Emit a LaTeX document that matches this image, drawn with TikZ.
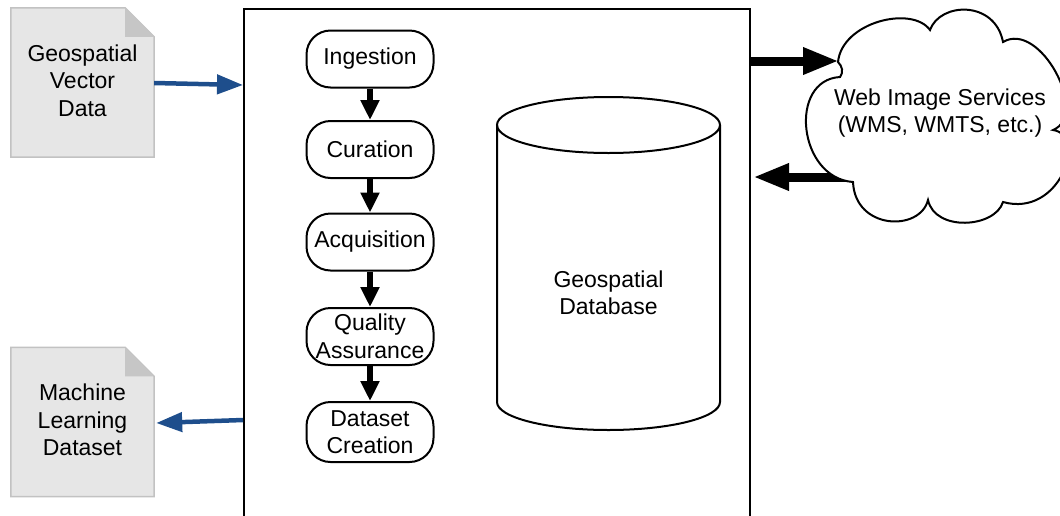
\documentclass[tikz,border=0pt]{standalone}
\usepackage{fontspec}
\setmainfont{Liberation Sans}
\usetikzlibrary{arrows.meta}
\definecolor{docfill}{HTML}{E6E6E6}
\definecolor{docedge}{HTML}{C2C2C2}
\definecolor{docfold}{HTML}{C6C6C6}
\definecolor{arrowblue}{RGB}{30,78,140}
\tikzset{
  lbl/.style={font=\fontsize{23}{27.5}\selectfont, align=center},
  stepbox/.style={draw, line width=2pt, rounded corners=24pt, minimum width=127pt,
                  minimum height=57pt, inner sep=0pt, lbl},
  docnode/.style={minimum width=143pt, minimum height=149pt, inner sep=0pt, lbl},
  bluearrow/.style={draw=arrowblue, line width=4.5pt, -{Triangle[length=26pt,width=19pt]}, arrowblue},
  flowarrow/.style={line width=6pt, -{Triangle[length=20pt,width=18pt]}},
  bigarrow/.style={line width=9pt, -{Triangle[length=36pt,width=25pt]}},
  thin2/.style={line width=2pt},
}
% input and output documents with a folded corner
\newcommand{\docsheet}[1]{%
  \fill[docfill, draw=docedge, line width=1.5pt]
    (#1.south west) -- (#1.north west) -- ([xshift=-29pt]#1.north east)
    -- ([yshift=-29pt]#1.north east) -- (#1.south east) -- cycle;
  \fill[docfold] ([xshift=-29pt]#1.north east) -- ([xshift=-29pt,yshift=-29pt]#1.north east)
    -- ([yshift=-29pt]#1.north east) -- cycle;
}
\begin{document}
\begin{tikzpicture}[x=1pt, y=-1pt]
\useasboundingbox (0,0) rectangle (1060,515);
\clip (0,0) rectangle (1060,515);

\path (82.5,82.5) node[docnode] (vec) {};
\path (82.5,422) node[docnode] (mld) {};
\docsheet{vec}
\docsheet{mld}
\node[lbl] (vectxt) at ([yshift=2pt]vec.center) {Geospatial\\Vector\\Data};
\node[lbl] (mldtxt) at ([yshift=2pt]mld.center) {Machine\\Learning\\Dataset};

% processing system frame
\node[draw, thin2, minimum width=506pt, minimum height=521pt, inner sep=0pt] (sys) at (497,269.5) {};

% pipeline steps
\node[stepbox] (ing) at (370,59) {Ingestion};
\node[stepbox] (cur) at (370,149.5) {Curation};
\node[stepbox] (acq) at (370,242) {Acquisition};
\node[stepbox] (qa)  at (370,336.5) {Quality\\Assurance};
\node[stepbox, minimum height=60pt] (dsc) at (370,432) {Dataset\\Creation};

\draw[flowarrow] (ing) -- (cur);
\draw[flowarrow] (cur) -- (acq);
\draw[flowarrow] (acq) -- (qa);
\draw[flowarrow] (qa) -- (dsc);

% database cylinder
\draw[thin2] (497,125) -- (497,402)
  arc[start angle=180, end angle=0, x radius=111.5, y radius=28] -- (720,125);
\draw[thin2] (608.5,125) ellipse [x radius=111.5, y radius=28];
\node[lbl] (db) at (608.5,293) {Geospatial\\Database};

% data flow connectors
\coordinate (vecout) at (vec.east |- 0,83);
\coordinate (sysin)  at (sys.west |- 0,85);
\coordinate (sysout) at (sys.west |- 0,420);
\coordinate (mldin)  at (mld.east |- 0,423);
\draw[bluearrow] (vecout) -- (sysin);
\draw[bluearrow] (sysout) -- ([xshift=2pt]mldin);

\coordinate (wisin)  at (839,61);
\coordinate (wisout) at (866,177);
\coordinate (sysreq) at (sys.east |- wisin);
\coordinate (sysres) at ([xshift=2pt]sys.east |- wisout);
\draw[bigarrow] (wisout) -- (sysres);

% external image services: cloud outline
\coordinate (wis) at (940,113);
\draw[thin2, fill=white]
  (838,62) .. controls (842,22) and (912,5) .. (930,30)
  .. controls (940,2) and (995,0) .. (1003,42)
  .. controls (1040,20) and (1090,115) .. (1053,130)
  .. controls (1088,135) and (1060,218) .. (1003,202)
  .. controls (995,228) and (935,232) .. (928,200)
  .. controls (920,232) and (855,230) .. (853,182)
  .. controls (798,178) and (788,80) .. (840,77)
  .. controls (844,72) and (842,66) .. (838,62) -- cycle;
\node[lbl] (wistxt) at (wis) {Web Image Services\\(WMS, WMTS, etc.)};

\draw[bigarrow] (sysreq) -- (wisin);
\end{tikzpicture}
\end{document}
